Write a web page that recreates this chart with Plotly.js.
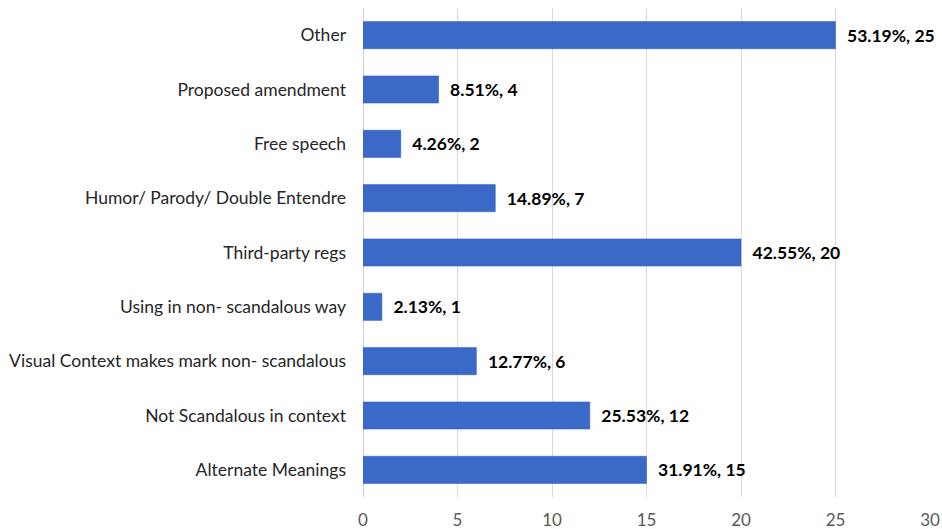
<!DOCTYPE html>
<html>
<head>
<meta charset="utf-8">
<script src="https://cdn.plot.ly/plotly-3.0.1.min.js"></script>
<style>html,body{margin:0;padding:0;background:#fff;}#chart{width:942px;height:529px;}</style>
</head>
<body>
<div id="chart"></div>
<script>
const categories = [
  "Alternate Meanings",
  "Not Scandalous in context",
  "Visual Context makes mark non- scandalous",
  "Using in non- scandalous way",
  "Third-party regs",
  "Humor/ Parody/ Double Entendre",
  "Free speech",
  "Proposed amendment",
  "Other"
];
const counts = [15, 12, 6, 1, 20, 7, 2, 4, 25];
const percents = ["31.91%", "25.53%", "12.77%", "2.13%", "42.55%", "14.89%", "4.26%", "8.51%", "53.19%"];
const xTicks = [0, 5, 10, 15, 20, 25, 30];

const labels = counts.map((c, i) => percents[i] + ", " + c);

const trace = {
  type: "bar",
  orientation: "h",
  y: categories,
  x: counts,
  width: 0.5,
  marker: { color: "#3a69c7", line: { color: "#2f5bb5", width: 0.5 } },
  text: labels,
  texttemplate: "  %{text}",
  textposition: "outside",
  cliponaxis: false,
  textfont: { family: "Lato, 'Open Sans', sans-serif", size: 17.5, color: "#000", weight: "bold" },
  hoverinfo: "none"
};

const layout = {
  width: 942,
  height: 529,
  margin: { l: 363, r: 12, t: 8, b: 32 },
  paper_bgcolor: "#fff",
  plot_bgcolor: "#fff",
  showlegend: false,
  bargap: 0.5,
  font: { family: "Lato, 'Open Sans', sans-serif", size: 17.5, color: "#262626" },
  xaxis: {
    range: [0, 30],
    tickvals: xTicks,
    ticktext: xTicks.map(String),
    showgrid: true,
    gridcolor: "#d9d9d9",
    gridwidth: 1,
    zeroline: true,
    zerolinecolor: "#d0d0d0",
    zerolinewidth: 1,
    showline: false,
    ticks: "",
    ticklabelstandoff: 11,
    tickfont: { size: 17, color: "#595959" },
    fixedrange: true
  },
  yaxis: {
    type: "category",
    categoryorder: "array",
    categoryarray: categories,
    showgrid: false,
    zeroline: false,
    showline: false,
    ticks: "",
    ticklabelstandoff: 16,
    tickfont: { size: 17.5, color: "#262626" },
    fixedrange: true
  }
};

Plotly.newPlot("chart", [trace], layout, { displayModeBar: false, staticPlot: true });
</script>
</body>
</html>
